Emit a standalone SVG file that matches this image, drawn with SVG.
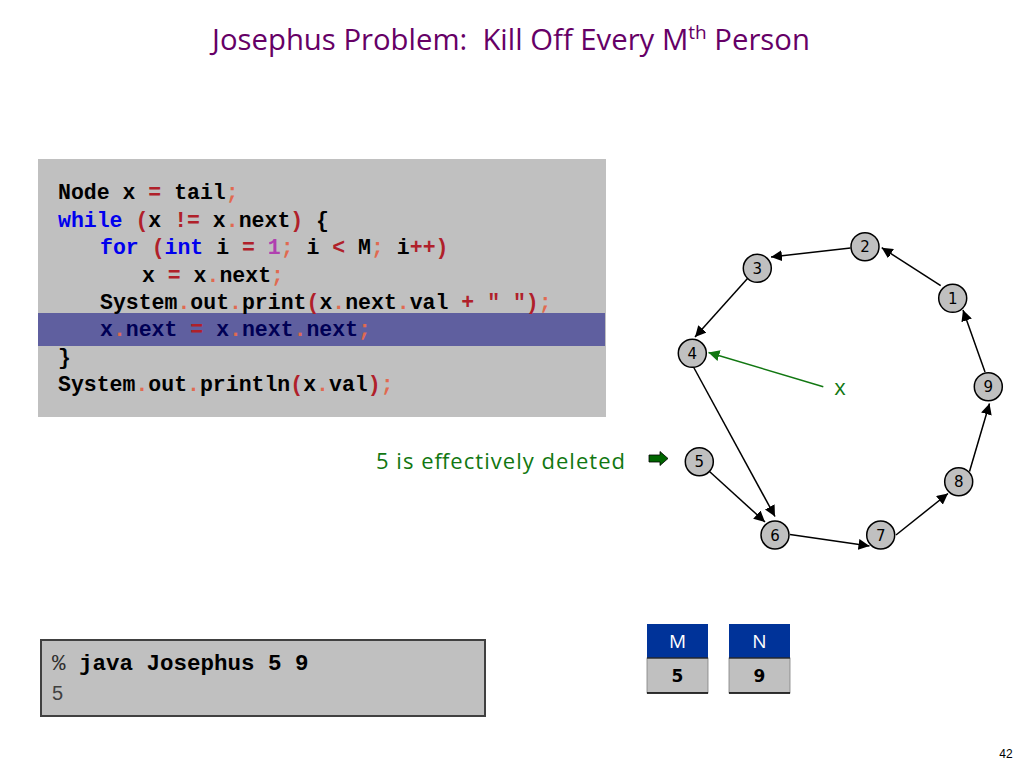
<svg xmlns="http://www.w3.org/2000/svg" width="1024" height="768" viewBox="0 0 1024 768">
<defs>
<style>
.title{font-family:"Open Sans","DejaVu Sans",sans-serif;font-size:29.3px;fill:#660066}
.code{font-family:"Liberation Mono",monospace;font-weight:bold;font-size:21.5px;fill:#000}
.kw{fill:#0000ee}
.op{fill:#b0202a}
.pn{fill:#e06a50}
.num{fill:#b040b0}
.hl{fill:#000055}
.node circle{fill:#c0c0c0;stroke:#000;stroke-width:1.5}
.node text{font-family:"DejaVu Sans",sans-serif;font-size:15px;text-anchor:middle;fill:#000}
.edge{stroke:#000;stroke-width:1.5;fill:none;marker-end:url(#ah)}
.green{font-family:"Open Sans","DejaVu Sans",sans-serif;font-size:22px;fill:#117711}
.boxh{font-family:"Open Sans","DejaVu Sans",sans-serif;font-size:19px;fill:#fff;text-anchor:middle}
.boxv{font-family:"DejaVu Sans",sans-serif;font-weight:bold;font-size:17px;fill:#000;text-anchor:middle}
</style>
<marker id="ah" viewBox="0 0 10 10" refX="10" refY="5" markerWidth="11" markerHeight="11" markerUnits="userSpaceOnUse" orient="auto">
<path d="M0,0 L10,5 L0,10 z" fill="#000"/>
</marker>
<marker id="ahg" viewBox="0 0 10 10" refX="10" refY="5" markerWidth="11" markerHeight="11" markerUnits="userSpaceOnUse" orient="auto">
<path d="M0,0 L10,5 L0,10 z" fill="#117711"/>
</marker>
</defs>
<rect width="1024" height="768" fill="#fff"/>

<text class="title" xml:space="preserve" x="511" y="50" text-anchor="middle">Josephus Problem:  Kill Off Every M<tspan font-size="19" dy="-11">th</tspan><tspan dy="11"> Person</tspan></text>

<g id="code">
<rect x="38" y="159" width="568" height="258" fill="#c0c0c0"/>
<rect x="38" y="313" width="567" height="33" fill="#5f5f9f"/>
<text class="code" xml:space="preserve" x="58" y="199">Node x <tspan class="op">=</tspan> tail<tspan class="pn">;</tspan></text>
<text class="code" xml:space="preserve" x="58" y="226.5"><tspan class="kw">while</tspan> <tspan class="op">(</tspan>x <tspan class="op">!=</tspan> x<tspan class="pn">.</tspan>next<tspan class="op">)</tspan> {</text>
<text class="code" xml:space="preserve" x="100" y="254"><tspan class="kw">for</tspan> <tspan class="op">(</tspan><tspan class="kw">int</tspan> i <tspan class="op">=</tspan> <tspan class="num">1</tspan><tspan class="pn">;</tspan> i <tspan class="op">&lt;</tspan> M<tspan class="pn">;</tspan> i<tspan class="op">++)</tspan></text>
<text class="code" xml:space="preserve" x="142" y="281.5">x <tspan class="op">=</tspan> x<tspan class="pn">.</tspan>next<tspan class="pn">;</tspan></text>
<text class="code" xml:space="preserve" x="100" y="309">System<tspan class="pn">.</tspan>out<tspan class="pn">.</tspan>print<tspan class="op">(</tspan>x<tspan class="pn">.</tspan>next<tspan class="pn">.</tspan>val <tspan class="op">+</tspan> <tspan class="op">" ")</tspan><tspan class="pn">;</tspan></text>
<text class="code hl" xml:space="preserve" x="100" y="336">x<tspan class="pn">.</tspan>next <tspan class="op">=</tspan> x<tspan class="pn">.</tspan>next<tspan class="pn">.</tspan>next<tspan class="pn">;</tspan></text>
<text class="code" xml:space="preserve" x="58" y="363.5">}</text>
<text class="code" xml:space="preserve" x="58" y="391">System<tspan class="pn">.</tspan>out<tspan class="pn">.</tspan>println<tspan class="op">(</tspan>x<tspan class="pn">.</tspan>val<tspan class="op">)</tspan><tspan class="pn">;</tspan></text>
</g>

<g id="connectors">
<line class="edge" x1="940.7" y1="285.7" x2="881.7" y2="247.7"/>
<line class="edge" x1="850.5" y1="248" x2="771" y2="257"/>
<line class="edge" x1="747.5" y1="278.5" x2="695" y2="337"/>
<line class="edge" x1="693.5" y1="367" x2="775" y2="516.5"/>
<line class="edge" x1="709.5" y1="471.5" x2="765" y2="522"/>
<line class="edge" x1="790" y1="534.5" x2="869.5" y2="546"/>
<line class="edge" x1="896" y1="535" x2="948" y2="493.5"/>
<line class="edge" x1="969.5" y1="471.5" x2="989.5" y2="403.5"/>
<line class="edge" x1="985" y1="372" x2="963" y2="310"/>
<line x1="823.3" y1="386.7" x2="708.5" y2="352.5" stroke="#117711" stroke-width="1.5" marker-end="url(#ahg)"/>
</g>

<g id="node1" class="node"><circle cx="952.7" cy="298.3" r="14"/><text x="952.7" y="303.8">1</text></g>
<g id="node2" class="node"><circle cx="865" cy="246.7" r="14"/><text x="865" y="252.2">2</text></g>
<g id="node3" class="node"><circle cx="757.3" cy="268.3" r="14"/><text x="757.3" y="273.8">3</text></g>
<g id="node4" class="node"><circle cx="692.3" cy="353.3" r="14"/><text x="692.3" y="358.8">4</text></g>
<g id="node5" class="node"><circle cx="699.3" cy="461.7" r="14"/><text x="699.3" y="467.2">5</text></g>
<g id="node6" class="node"><circle cx="775" cy="535" r="14"/><text x="775" y="540.5">6</text></g>
<g id="node7" class="node"><circle cx="880.7" cy="535" r="14"/><text x="880.7" y="540.5">7</text></g>
<g id="node8" class="node"><circle cx="958.7" cy="481.7" r="14"/><text x="958.7" y="487.2">8</text></g>
<g id="node9" class="node"><circle cx="988.3" cy="386.7" r="14"/><text x="988.3" y="392.2">9</text></g>

<g id="xlabel"><text class="green" x="840" y="395" text-anchor="middle">x</text></g>

<g id="deleted-note">
<text class="green" x="376" y="469" textLength="249" lengthAdjust="spacing">5 is effectively deleted</text>
<path d="M649,455 L660,455 L660,451.5 L668,458.5 L660,465.5 L660,462 L649,462 z" fill="#006600" stroke="#000" stroke-width="0.8"/>
</g>

<g id="terminal">
<rect x="41" y="640" width="444" height="76" fill="#c0c0c0" stroke="#404040" stroke-width="2"/>
<text xml:space="preserve" x="52" y="670" font-family="Liberation Mono,monospace" font-size="22.5" font-weight="bold" fill="#000"><tspan font-weight="normal" fill="#303030">%</tspan> java Josephus 5 9</text>
<text x="52" y="700" font-family="Liberation Sans Narrow,Liberation Sans,sans-serif" font-size="20" fill="#404040">5</text>
</g>

<g id="boxM">
<rect x="647" y="624" width="61" height="34" fill="#003399"/>
<rect x="647" y="658" width="61" height="35" fill="#c0c0c0" stroke="#808080" stroke-width="0.8"/>
<line x1="647" y1="693" x2="708" y2="693" stroke="#000" stroke-width="1.5"/>
<line x1="647" y1="658" x2="708" y2="658" stroke="#000" stroke-width="1"/>
<text class="boxh" x="677.5" y="648">M</text>
<text class="boxv" x="677.5" y="682">5</text>
</g>
<g id="boxN">
<rect x="729" y="624" width="61" height="34" fill="#003399"/>
<rect x="729" y="658" width="61" height="35" fill="#c0c0c0" stroke="#808080" stroke-width="0.8"/>
<line x1="729" y1="693" x2="790" y2="693" stroke="#000" stroke-width="1.5"/>
<line x1="729" y1="658" x2="790" y2="658" stroke="#000" stroke-width="1"/>
<text class="boxh" x="759.5" y="648">N</text>
<text class="boxv" x="759.5" y="682">9</text>
</g>

<text x="1006" y="758" font-family="Liberation Sans,sans-serif" font-size="12" fill="#000" text-anchor="middle">42</text>
</svg>
